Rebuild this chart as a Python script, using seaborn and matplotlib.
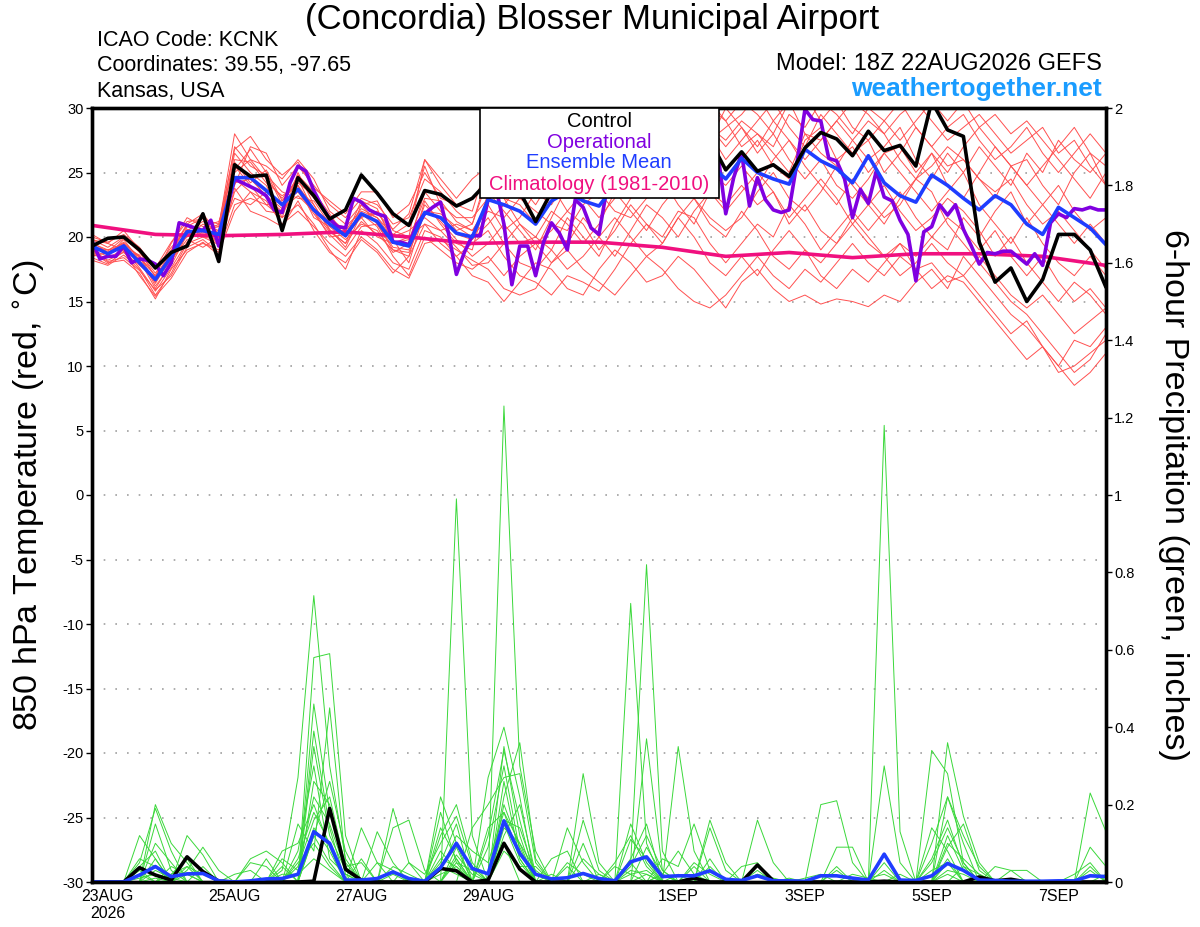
import matplotlib
matplotlib.use("Agg")
import matplotlib.pyplot as plt
from matplotlib.patches import Rectangle
import seaborn as sns
import pandas as pd

# ---- data (6-hourly from 18Z 22AUG2026) ----
RUN_START = "2026-08-22 18:00"

CONTROL_T = [19.3, 19.9, 20.0, 19.0, 17.6, 18.8, 19.3, 21.8, 18.1, 25.6, 24.7, 24.8, 20.5,
             24.6, 23.2, 21.4, 22.1, 24.8, 23.4, 21.8, 20.9, 23.6, 23.3, 22.4, 23.0, 24.3,
             25.0, 23.5, 21.2, 23.5, 25.5, 26.0, 25.0, 26.5, 27.0, 26.0, 27.5, 28.0, 27.0,
             27.5, 25.2, 26.6, 25.1, 25.6, 24.7, 26.9, 28.1, 27.6, 26.3, 28.2, 26.7, 27.1,
             25.5, 30.5, 28.3, 27.8, 19.6, 16.5, 17.6, 15.0, 16.7, 20.2, 20.2, 19.0, 16.1]

MEAN_T = [19.3, 18.7, 19.3, 18.0, 16.7, 18.5, 20.4, 20.5, 20.2, 24.6, 24.6, 23.6, 22.5,
          23.7, 22.1, 21.0, 20.1, 21.8, 21.2, 19.6, 19.3, 21.9, 21.5, 20.3, 20.0, 22.9,
          22.5, 22.0, 21.0, 22.8, 23.5, 22.8, 22.4, 24.0, 24.5, 25.0, 25.3, 25.5, 25.8,
          25.6, 24.5, 26.1, 25.0, 24.5, 24.1, 26.8, 25.9, 25.3, 24.2, 26.3, 24.2, 23.2,
          22.7, 24.8, 24.0, 23.0, 22.1, 23.2, 22.5, 21.0, 20.2, 22.3, 21.5, 20.7, 19.4]

# operational run is 3-hourly
OPER_T = [19.7, 18.3, 18.5, 18.5, 19.3, 18.0, 18.3, 18.2, 17.9, 17.0, 18.0, 21.1, 20.9,
          20.7, 20.5, 21.3, 19.3, 22.1, 24.5, 24.2, 23.9, 23.6, 23.2, 22.1, 21.9, 24.2,
          25.5, 25.1, 23.6, 22.4, 21.4, 20.8, 20.7, 23.0, 22.7, 22.1, 21.8, 21.6, 19.6,
          19.6, 19.4, 21.0, 21.8, 22.3, 22.7, 20.3, 17.1, 18.8, 20.1, 20.1, 22.9, 23.8,
          21.0, 16.3, 19.3, 19.3, 17.0, 19.6, 21.1, 20.3, 19.0, 22.9, 22.3, 20.7, 20.2,
          23.8, 25.0, 24.5, 25.5, 26.0, 25.0, 24.5, 25.5, 26.5, 26.0, 25.5, 26.5, 27.0,
          26.0, 26.5, 21.8, 24.6, 26.5, 22.4, 24.6, 22.9, 22.1, 21.9, 22.1, 25.8, 29.9,
          29.1, 29.0, 26.1, 25.9, 24.5, 21.5, 23.7, 22.6, 25.1, 23.1, 22.8, 21.3, 20.2,
          16.6, 20.4, 20.8, 22.5, 21.7, 22.5, 20.6, 19.3, 17.9, 18.8, 18.7, 18.9, 18.9,
          18.4, 17.9, 18.7, 17.8, 21.1, 21.8, 21.5, 22.2, 22.1, 22.3, 22.1, 22.1]

# climatology, daily at 18Z
CLIM_T = [20.9, 20.2, 20.1, 20.2, 20.4, 20.0, 19.5, 19.6, 19.6, 19.2, 18.5, 18.8, 18.4,
          18.7, 18.7, 18.5, 17.8]

RED_MEMBERS = [
    [19.0, 18.5, 19.8, 18.2, 16.0, 18.0, 20.8, 21.5, 20.0, 26.5, 25.0, 24.0, 21.5, 25.0, 22.5, 20.5, 19.5,
     22.5, 21.0, 19.0, 18.5, 22.8, 21.0, 19.5, 19.0, 23.5, 22.0, 20.5, 19.0, 21.5, 24.0, 25.5, 23.0, 26.5,
     27.0, 28.5, 27.0, 29.0, 30.5, 28.0, 26.0, 27.5, 29.0, 30.5, 28.5, 27.0, 29.5, 28.0, 26.5, 27.5, 25.0,
     26.5, 28.5, 27.0, 25.5, 26.0, 24.5, 23.0, 25.5, 26.0, 24.0, 22.5, 25.0, 26.5, 24.0],
    [18.2, 17.8, 18.6, 17.5, 15.5, 17.2, 19.5, 20.0, 19.4, 23.5, 24.8, 23.0, 22.0, 24.0, 21.5, 20.8, 19.8,
     21.0, 20.5, 18.8, 19.5, 23.5, 22.0, 20.5, 21.0, 24.5, 23.0, 22.5, 21.0, 23.5, 25.0, 26.5, 24.5, 25.5,
     27.5, 26.0, 28.0, 27.0, 29.5, 28.5, 27.0, 28.5, 27.0, 29.0, 30.5, 28.0, 27.5, 29.0, 27.5, 26.0, 27.0,
     28.5, 26.0, 24.5, 26.5, 25.0, 27.0, 25.5, 24.0, 26.5, 25.0, 27.5, 26.0, 25.0, 26.5],
    [19.8, 19.2, 20.0, 18.8, 17.2, 19.0, 21.0, 20.5, 20.8, 25.0, 26.0, 24.5, 23.0, 24.5, 23.0, 21.5, 20.5,
     21.5, 22.0, 20.0, 20.5, 21.5, 20.5, 21.0, 20.5, 22.0, 21.5, 23.0, 22.0, 21.0, 20.5, 22.5, 23.5, 22.0,
     21.5, 23.0, 24.5, 22.5, 21.0, 23.5, 22.5, 24.0, 22.5, 23.5, 21.0, 22.5, 20.5, 19.5, 21.5, 20.0, 18.5,
     19.5, 17.5, 18.0, 16.5, 17.0, 15.5, 14.0, 12.5, 13.5, 11.5, 10.0, 12.0, 11.5, 13.0],
    [19.5, 19.0, 19.5, 18.0, 16.5, 18.8, 20.0, 21.0, 20.5, 27.0, 25.5, 24.8, 23.5, 23.0, 22.8, 21.0, 20.8,
     22.0, 21.5, 19.8, 18.0, 22.0, 21.8, 20.8, 20.0, 21.5, 19.5, 18.0, 17.5, 19.0, 21.5, 20.0, 18.5, 21.0,
     23.0, 24.5, 23.0, 25.5, 26.5, 25.0, 24.0, 25.5, 24.0, 26.0, 27.5, 25.5, 24.0, 22.5, 24.5, 23.0, 21.5,
     22.5, 24.5, 23.5, 21.0, 19.5, 18.0, 16.5, 15.0, 14.0, 12.5, 11.0, 9.5, 10.5, 12.5],
    [18.8, 18.0, 18.2, 17.2, 15.2, 17.5, 19.0, 19.5, 19.0, 22.5, 23.0, 22.5, 21.5, 22.5, 21.0, 19.0, 17.5,
     20.5, 19.5, 18.0, 17.5, 20.5, 20.0, 18.5, 17.0, 16.5, 15.0, 16.5, 18.0, 17.5, 16.0, 15.5, 17.5, 19.0,
     18.0, 16.5, 17.0, 18.5, 17.5, 16.0, 14.5, 16.5, 17.5, 16.0, 15.0, 15.5, 14.8, 15.2, 15.0, 14.6, 15.5,
     15.0, 16.5, 17.5, 16.0, 18.5, 17.0, 15.5, 14.0, 13.0, 11.5, 10.0, 8.5, 9.5, 11.0],
    [20.2, 19.5, 19.0, 18.5, 17.0, 19.5, 21.5, 20.8, 21.2, 24.0, 27.0, 26.5, 24.0, 25.5, 24.0, 22.5, 21.5,
     23.0, 22.5, 21.0, 21.5, 24.5, 23.5, 22.0, 21.0, 25.0, 26.5, 24.0, 22.5, 24.5, 27.0, 26.0, 28.0, 29.5,
     28.0, 30.5, 29.0, 27.5, 28.5, 30.0, 29.0, 27.0, 28.0, 26.5, 25.0, 28.0, 26.5, 25.5, 27.5, 29.0, 28.0,
     26.0, 24.5, 25.5, 27.0, 26.0, 24.5, 23.5, 24.5, 22.5, 21.0, 22.0, 20.5, 19.0, 17.5],
    [18.5, 18.8, 19.5, 18.5, 16.2, 17.8, 20.2, 20.0, 19.8, 25.5, 24.0, 22.5, 22.8, 24.5, 22.0, 20.0, 20.2,
     21.5, 20.0, 19.5, 20.0, 21.0, 19.5, 18.5, 19.5, 20.5, 18.5, 17.0, 16.5, 15.5, 17.0, 16.5, 15.8, 17.5,
     19.5, 21.0, 20.0, 22.0, 21.5, 19.5, 18.0, 19.5, 21.0, 20.0, 22.5, 21.0, 19.0, 20.5, 22.0, 20.5, 22.0,
     23.5, 21.5, 20.0, 21.5, 20.5, 19.0, 20.5, 18.5, 17.0, 18.5, 16.5, 15.0, 16.0, 14.5],
    [19.8, 19.5, 20.5, 19.0, 17.5, 19.2, 20.5, 21.2, 20.8, 28.0, 26.0, 25.5, 24.5, 26.0, 24.5, 22.0, 21.0,
     22.5, 22.8, 20.5, 20.0, 26.0, 24.0, 22.5, 22.0, 26.0, 27.5, 29.0, 27.0, 28.5, 30.5, 29.5, 31.0, 29.0,
     28.0, 30.0, 31.0, 29.5, 28.5, 30.5, 29.0, 30.5, 29.5, 28.0, 30.5, 31.0, 29.0, 30.5, 28.5, 27.5, 29.0,
     30.5, 28.5, 27.0, 28.5, 29.5, 27.5, 26.0, 27.0, 28.5, 26.5, 25.0, 26.5, 28.0, 26.5],
    [19.0, 18.2, 18.8, 17.8, 16.8, 18.2, 19.8, 19.2, 20.0, 23.0, 22.5, 23.5, 22.5, 23.5, 21.8, 20.2, 19.0,
     20.8, 21.0, 19.2, 19.0, 22.5, 21.2, 19.8, 18.5, 19.5, 21.0, 19.5, 20.0, 22.0, 21.0, 19.5, 21.0, 23.5,
     22.0, 20.5, 22.5, 24.0, 23.0, 21.0, 20.0, 22.0, 20.5, 18.5, 17.5, 19.0, 17.0, 16.0, 17.5, 16.5, 18.0,
     19.5, 18.5, 20.0, 19.0, 21.5, 20.0, 22.0, 23.5, 21.0, 22.5, 24.0, 22.0, 20.5, 21.5],
    [19.2, 19.0, 19.2, 18.6, 16.4, 18.4, 20.6, 20.2, 20.5, 26.0, 25.8, 24.2, 23.2, 24.0, 22.2, 21.2, 20.5,
     22.2, 21.5, 20.2, 21.0, 25.5, 22.5, 21.5, 21.5, 23.0, 24.5, 25.5, 23.5, 25.0, 23.5, 24.5, 26.5, 25.0,
     23.5, 25.5, 26.5, 25.0, 27.0, 26.0, 24.5, 26.0, 27.5, 25.5, 24.5, 27.5, 28.5, 26.0, 27.0, 25.0, 26.5,
     27.0, 25.0, 26.5, 24.0, 23.0, 25.0, 27.0, 25.5, 24.0, 25.5, 27.0, 28.5, 26.5, 25.5],
    [18.6, 18.4, 19.0, 17.6, 15.8, 17.6, 19.6, 20.6, 19.6, 24.5, 23.5, 22.0, 21.8, 23.8, 22.5, 20.6, 19.2,
     21.8, 20.8, 18.5, 17.0, 20.0, 19.0, 18.0, 17.5, 18.5, 17.0, 18.5, 19.5, 18.0, 19.5, 21.5, 20.0, 18.5,
     20.5, 22.5, 21.5, 20.0, 22.0, 23.5, 22.0, 23.5, 25.0, 23.5, 21.5, 23.0, 24.5, 23.0, 21.0, 22.5, 24.0,
     22.0, 20.5, 21.5, 23.0, 22.0, 20.5, 18.5, 20.0, 18.0, 16.5, 15.0, 16.5, 15.5, 14.0],
    [19.6, 18.8, 19.6, 18.4, 17.0, 18.6, 21.0, 21.8, 20.2, 25.2, 26.8, 25.0, 22.5, 24.8, 23.5, 21.8, 20.0,
     22.8, 22.2, 19.5, 19.8, 23.0, 22.8, 21.2, 20.5, 22.5, 20.5, 21.5, 23.5, 22.5, 24.5, 23.0, 21.5, 23.0,
     25.5, 24.0, 25.5, 28.0, 26.5, 27.5, 30.0, 28.5, 26.5, 28.0, 26.0, 24.5, 26.0, 24.0, 23.0, 24.5, 26.5,
     25.0, 23.5, 22.0, 23.5, 25.0, 22.5, 21.0, 19.5, 21.5, 19.5, 18.0, 17.0, 18.5, 17.0],
    [19.4, 18.6, 19.4, 18.2, 16.6, 18.2, 20.2, 20.5, 19.4, 24.2, 24.5, 23.2, 22.2, 23.2, 22.0, 20.4, 19.5,
     21.2, 20.2, 19.0, 18.8, 21.8, 21.5, 20.2, 19.8, 21.0, 22.5, 24.0, 25.5, 24.0, 22.0, 23.5, 25.0, 27.0,
     25.5, 27.5, 25.5, 24.0, 25.5, 27.5, 28.5, 29.5, 31.0, 29.0, 27.5, 26.0, 27.5, 29.0, 30.5, 29.5, 28.0,
     29.5, 30.5, 29.0, 27.5, 28.5, 29.5, 28.0, 26.5, 27.5, 28.5, 26.5, 27.5, 25.5, 24.0],
    [18.9, 18.1, 18.4, 17.4, 15.9, 17.0, 19.2, 19.8, 18.8, 22.0, 23.5, 22.8, 21.0, 22.0, 20.8, 19.5, 18.5,
     20.0, 19.0, 17.5, 16.8, 19.5, 19.8, 19.0, 18.2, 17.5, 16.0, 15.5, 16.0, 18.0, 19.0, 17.5, 16.5, 15.5,
     17.0, 18.5, 17.5, 16.0, 15.0, 14.5, 15.5, 17.0, 18.5, 17.0, 16.0, 17.5, 16.5, 18.0, 19.5, 18.0, 17.0,
     18.5, 17.5, 16.0, 17.0, 16.5, 15.0, 13.5, 12.0, 10.5, 11.5, 9.5, 10.0, 11.0, 12.0],
    [19.1, 18.9, 19.9, 18.9, 16.9, 18.9, 20.9, 20.3, 21.0, 25.8, 24.2, 25.2, 22.8, 24.2, 23.2, 21.6, 20.0,
     21.6, 21.8, 20.6, 21.8, 26.0, 24.5, 23.0, 24.5, 25.5, 23.0, 21.0, 19.5, 20.5, 22.0, 21.0, 19.0, 20.5,
     22.5, 21.0, 19.5, 21.5, 23.0, 21.5, 20.5, 21.5, 23.5, 25.0, 23.0, 22.0, 23.5, 25.5, 24.0, 22.5, 21.0,
     23.0, 24.5, 26.5, 25.0, 27.0, 28.5, 27.0, 25.5, 24.0, 22.5, 21.0, 19.5, 21.0, 19.5],
    [18.4, 17.9, 18.9, 17.0, 15.4, 16.8, 18.8, 19.6, 18.6, 23.8, 22.0, 21.5, 20.8, 22.8, 20.5, 18.8, 18.0,
     19.8, 18.8, 17.2, 18.5, 21.0, 20.5, 19.2, 17.8, 18.0, 19.5, 21.0, 20.0, 19.0, 17.5, 18.5, 20.0, 21.5,
     20.0, 18.5, 19.5, 21.5, 20.0, 18.0, 17.0, 18.5, 17.0, 19.0, 20.5, 19.0, 18.0, 19.5, 21.0, 19.5, 18.5,
     17.0, 18.0, 19.5, 18.0, 17.0, 18.5, 17.0, 15.5, 14.5, 15.5, 14.0, 12.5, 13.5, 14.5],
    [20.0, 19.6, 20.2, 19.2, 17.6, 19.6, 21.2, 21.4, 21.0, 26.8, 27.8, 26.0, 24.8, 25.8, 23.8, 22.8, 21.8,
     23.5, 23.5, 21.5, 22.5, 25.0, 23.0, 22.5, 23.0, 24.0, 25.5, 27.0, 28.5, 27.0, 26.0, 28.0, 29.5, 28.0,
     26.5, 28.0, 29.5, 31.0, 29.5, 28.5, 27.5, 29.0, 28.0, 27.0, 29.5, 28.5, 30.5, 29.5, 28.0, 30.0, 29.0,
     27.5, 29.0, 30.5, 29.0, 30.5, 28.5, 29.5, 28.0, 29.0, 27.5, 26.0, 24.5, 23.0, 25.0],
]

CONTROL_P = [0, 0, 0, 0.037, 0.018, 0.005, 0.065, 0.027, 0.002, 0, 0, 0, 0, 0, 0.002, 0.19, 0.033,
             0.005, 0, 0, 0, 0, 0.035, 0.029, 0, 0.005, 0.10, 0.033, 0, 0, 0, 0, 0, 0, 0, 0, 0, 0,
             0.01, 0, 0, 0, 0.044, 0.003, 0, 0, 0, 0, 0, 0, 0.002, 0, 0, 0, 0, 0, 0.013, 0.003,
             0.007, 0, 0, 0, 0, 0, 0]

MEAN_P = [0, 0, 0, 0.018, 0.04, 0.014, 0.021, 0.022, 0.003, 0, 0.003, 0.008, 0.009, 0.02, 0.13,
          0.10, 0.005, 0.005, 0.009, 0.026, 0.009, 0.002, 0.037, 0.10, 0.035, 0.021, 0.158, 0.074,
          0.02, 0.008, 0.011, 0.022, 0.009, 0.003, 0.052, 0.065, 0.014, 0.016, 0.016, 0.029, 0.007,
          0.004, 0.016, 0.003, 0.003, 0.002, 0.016, 0.016, 0.01, 0.005, 0.072, 0.005, 0.004, 0.016,
          0.048, 0.03, 0.005, 0.004, 0.002, 0.002, 0.002, 0.003, 0.003, 0.016, 0.014]

# ensemble precip members: {6-hour step: inches}, other steps are dry
GREEN_MEMBERS = [
    {3: 0.05, 4: 0.19, 5: 0.08, 12: 0.03, 13: 0.27, 14: 0.74, 15: 0.30, 16: 0.06, 22: 0.05, 23: 0.15,
     26: 0.35, 27: 0.12, 34: 0.05, 35: 0.82, 36: 0.08, 50: 0.30, 51: 0.05, 54: 0.22, 55: 0.10},
    {4: 0.20, 5: 0.10, 6: 0.05, 14: 0.58, 15: 0.59, 16: 0.12, 19: 0.19, 20: 0.05, 23: 0.99, 24: 0.12,
     26: 0.10, 31: 0.28, 32: 0.05, 37: 0.35, 38: 0.08, 46: 0.20, 47: 0.21, 48: 0.05, 53: 0.34,
     54: 0.28, 55: 0.05},
    {3: 0.12, 4: 0.06, 6: 0.12, 7: 0.07, 11: 0.06, 14: 0.39, 15: 0.14, 17: 0.14, 18: 0.05, 22: 0.22,
     23: 0.10, 26: 1.23, 27: 0.30, 28: 0.08, 34: 0.72, 35: 0.10, 42: 0.16, 43: 0.05, 50: 1.18,
     51: 0.13, 63: 0.23, 64: 0.13},
    {3: 0.03, 5: 0.02, 6: 0.06, 12: 0.08, 13: 0.10, 14: 0.20, 15: 0.09, 18: 0.13, 19: 0.05, 22: 0.18,
     23: 0.05, 25: 0.27, 26: 0.40, 27: 0.22, 30: 0.14, 31: 0.05, 35: 0.37, 36: 0.03, 39: 0.16,
     40: 0.05, 54: 0.36, 55: 0.17, 56: 0.05},
    {4: 0.10, 5: 0.05, 10: 0.05, 11: 0.04, 14: 0.14, 15: 0.08, 19: 0.14, 20: 0.16, 21: 0.03, 24: 0.14,
     25: 0.20, 26: 0.27, 27: 0.28, 28: 0.05, 31: 0.16, 32: 0.03, 34: 0.15, 35: 0.05, 39: 0.14,
     40: 0.03, 47: 0.09, 48: 0.09, 53: 0.10, 54: 0.22, 55: 0.12, 56: 0.04, 63: 0.09, 64: 0.04},
    {3: 0.02, 6: 0.03, 7: 0.09, 8: 0.03, 10: 0.06, 11: 0.08, 12: 0.05, 14: 0.46, 15: 0.18, 16: 0.04,
     17: 0.05, 22: 0.08, 23: 0.03, 25: 0.12, 26: 0.34, 27: 0.16, 29: 0.06, 30: 0.08, 34: 0.11,
     35: 0.06, 41: 0.04, 42: 0.05, 53: 0.14, 54: 0.08, 57: 0.04, 58: 0.03},
    {4: 0.03, 5: 0.01, 13: 0.15, 14: 0.08, 15: 0.45, 16: 0.05, 20: 0.05, 21: 0.02, 22: 0.10, 23: 0.17,
     24: 0.04, 26: 0.20, 27: 0.09, 30: 0.05, 31: 0.02, 36: 0.06, 37: 0.04, 38: 0.15, 39: 0.03,
     45: 0.01, 46: 0.02, 50: 0.05, 53: 0.05, 54: 0.14, 55: 0.05, 62: 0.02, 63: 0.05},
    {3: 0.01, 4: 0.02, 12: 0.06, 13: 0.03, 14: 0.22, 15: 0.15, 16: 0.03, 22: 0.03, 23: 0.12, 24: 0.08,
     25: 0.05, 26: 0.18, 27: 0.10, 28: 0.03, 33: 0.04, 34: 0.02, 35: 0.03, 38: 0.05, 39: 0.02,
     44: 0.01, 49: 0.01, 50: 0.02, 54: 0.05, 55: 0.03, 58: 0.03, 59: 0.03},
    {5: 0.04, 6: 0.02, 9: 0.02, 10: 0.03, 14: 0.12, 15: 0.05, 18: 0.05, 19: 0.03, 23: 0.05, 24: 0.03,
     26: 0.12, 27: 0.20, 28: 0.02, 31: 0.06, 32: 0.02, 35: 0.09, 36: 0.02, 42: 0.03, 55: 0.04,
     56: 0.02},
    {3: 0.06, 4: 0.04, 7: 0.04, 13: 0.05, 14: 0.10, 15: 0.04, 17: 0.06, 22: 0.02, 23: 0.04, 26: 0.15,
     27: 0.05, 29: 0.02, 34: 0.03, 35: 0.02, 39: 0.06, 47: 0.03, 51: 0.02, 54: 0.02, 63: 0.03},
    {4: 0.01, 6: 0.02, 12: 0.02, 13: 0.02, 14: 0.06, 15: 0.03, 19: 0.02, 22: 0.04, 23: 0.02, 26: 0.08,
     27: 0.04, 28: 0.04, 35: 0.02, 37: 0.02, 42: 0.02, 50: 0.03, 54: 0.03, 55: 0.02},
    {13: 0.08, 14: 0.30, 15: 0.06, 16: 0.02, 23: 0.07, 24: 0.02, 26: 0.26, 27: 0.06, 32: 0.02,
     34: 0.05, 36: 0.02, 54: 0.10, 55: 0.06, 56: 0.02, 64: 0.02},
    {4: 0.15, 5: 0.03, 14: 0.26, 15: 0.20, 16: 0.02, 23: 0.06, 25: 0.09, 26: 0.30, 27: 0.08, 33: 0.05,
     34: 0.12, 35: 0.04, 42: 0.02, 43: 0.01, 48: 0.02, 49: 0.01, 54: 0.12, 55: 0.03},
    {6: 0.04, 7: 0.02, 14: 0.35, 15: 0.12, 16: 0.03, 19: 0.04, 20: 0.02, 22: 0.06, 23: 0.04, 26: 0.16,
     27: 0.14, 28: 0.02, 36: 0.02, 37: 0.08, 38: 0.02, 53: 0.06, 54: 0.16, 55: 0.04},
    {3: 0.04, 4: 0.08, 13: 0.04, 14: 0.16, 15: 0.22, 16: 0.04, 22: 0.14, 23: 0.06, 26: 0.22, 27: 0.36,
     28: 0.06, 31: 0.10, 34: 0.06, 35: 0.15, 39: 0.04, 54: 0.09, 55: 0.15, 56: 0.03},
    {5: 0.02, 6: 0.04, 12: 0.04, 14: 0.12, 15: 0.26, 16: 0.08, 22: 0.12, 23: 0.20, 24: 0.05, 26: 0.14,
     27: 0.10, 30: 0.04, 34: 0.04, 35: 0.12, 36: 0.03, 47: 0.04, 54: 0.06, 63: 0.04},
    {4: 0.06, 13: 0.06, 14: 0.18, 15: 0.10, 23: 0.09, 25: 0.14, 26: 0.18, 27: 0.06, 34: 0.02, 38: 0.04,
     53: 0.03, 54: 0.05},
]

TICK_DATES = ["2026-08-23", "2026-08-25", "2026-08-27", "2026-08-29",
              "2026-09-01", "2026-09-03", "2026-09-05", "2026-09-07"]
TICK_LABELS = ["23AUG\n2026", "25AUG", "27AUG", "29AUG", "1SEP", "3SEP", "5SEP", "7SEP"]

LEGEND_NAMES = ["Control", "Operational", "Ensemble Mean", "Climatology (1981-2010)"]

C_CONTROL = "black"
C_OPER = "#8000e0"
C_MEAN = "#1f3dff"
C_CLIM = "#f0107f"
C_RED = "#ff5050"
C_GREEN = "#3ad83a"

# ---- build frames ----
t6 = pd.date_range(RUN_START, periods=len(CONTROL_T), freq="6h")
t3 = pd.date_range(RUN_START, periods=len(OPER_T), freq="3h")
t24 = pd.date_range(RUN_START, periods=len(CLIM_T), freq="24h")

red_rows = []
for m, vals in enumerate(RED_MEMBERS):
    for t, v in zip(t6, vals):
        red_rows.append({"time": t, "temp": v, "member": m})
red_df = pd.DataFrame(red_rows)

green_rows = []
for m, steps in enumerate(GREEN_MEMBERS):
    for i, t in enumerate(t6):
        green_rows.append({"time": t, "precip": steps.get(i, 0.0), "member": m})
green_df = pd.DataFrame(green_rows)

sns.set_theme(style="white")
plt.rcParams["font.family"] = ["Liberation Sans", "DejaVu Sans"]
plt.rcParams["text.color"] = "black"
plt.rcParams["axes.labelcolor"] = "black"
plt.rcParams["xtick.color"] = "black"
plt.rcParams["ytick.color"] = "black"

fig = plt.figure(figsize=(12, 9.27), dpi=100)
ax = fig.add_axes([92 / 1200, 1 - 882 / 927, 1014 / 1200, 774 / 927])
ax2 = ax.twinx()

# temperature
sns.lineplot(data=red_df, x="time", y="temp", units="member", estimator=None,
             color=C_RED, lw=0.7, ax=ax, legend=False)
sns.lineplot(x=t24, y=CLIM_T, color=C_CLIM, lw=2.6, ax=ax)
sns.lineplot(x=t3, y=OPER_T, color=C_OPER, lw=2.6, ax=ax)
sns.lineplot(x=t6, y=MEAN_T, color=C_MEAN, lw=2.6, ax=ax)
sns.lineplot(x=t6, y=CONTROL_T, color=C_CONTROL, lw=2.6, ax=ax)

# precipitation
sns.lineplot(data=green_df, x="time", y="precip", units="member", estimator=None,
             color=C_GREEN, lw=0.7, ax=ax2, legend=False)
sns.lineplot(x=t6, y=CONTROL_P, color=C_CONTROL, lw=2.6, ax=ax2)
sns.lineplot(x=t6, y=MEAN_P, color=C_MEAN, lw=2.6, ax=ax2)

ax.set_xlim(t6[0], t6[-1])
ax.set_ylim(-30, 30)
ax2.set_ylim(0, 2)

ax.set_yticks(range(-30, 31, 5))
ax.set_yticklabels([str(v) for v in range(-30, 31, 5)])
p_ticks = [0, 0.2, 0.4, 0.6, 0.8, 1, 1.2, 1.4, 1.6, 1.8, 2]
ax2.set_yticks(p_ticks)
ax2.set_yticklabels(["0", "0.2", "0.4", "0.6", "0.8", "1", "1.2", "1.4", "1.6", "1.8", "2"])
ax.set_xticks(pd.to_datetime(TICK_DATES))
ax.set_xticklabels(TICK_LABELS)

ax.set_xlabel("")
ax.set_ylabel("")
ax2.set_ylabel("")

for a in (ax, ax2):
    a.tick_params(axis="both", direction="out", length=4, width=1, labelsize=10.5,
                  colors="black", pad=2)
    for s in a.spines.values():
        s.set_linewidth(2.4)
        s.set_color("black")
ax.tick_params(axis="x", labelsize=11.5, pad=1)

ax.yaxis.grid(True, linestyle=(0, (1, 6)), color="#a0a0a0", lw=1.2)
ax.xaxis.grid(False)
ax2.grid(False)

# legend box
ax2.add_patch(Rectangle((0.3826, 0.8837), 0.2357, 0.1163, transform=ax2.transAxes,
                        facecolor="white", edgecolor="black", lw=1.2, zorder=10))
for name, col, yy in zip(LEGEND_NAMES, [C_CONTROL, C_OPER, C_MEAN, C_CLIM],
                         [0.983, 0.956, 0.929, 0.901]):
    ax2.text(0.5, yy, name, transform=ax2.transAxes, ha="center", va="center",
             color=col, fontsize=14.5, zorder=11)

# labels and header
fig.text(30 / 1200, 1 - 495 / 927, "850 hPa Temperature (red, $^{\\circ}$C)", rotation=90,
         ha="center", va="center", fontsize=24.5)
fig.text(1173 / 1200, 1 - 495 / 927, "6-hour Precipitation (green, inches)", rotation=270,
         ha="center", va="center", fontsize=24.5)
fig.text(592 / 1200, 1 - 19 / 927, "(Concordia) Blosser Municipal Airport",
         ha="center", va="center", fontsize=25)
fig.text(97 / 1200, 1 - 40 / 927, "ICAO Code: KCNK", ha="left", va="center", fontsize=15.5)
fig.text(97 / 1200, 1 - 66 / 927, "Coordinates: 39.55, -97.65", ha="left", va="center",
         fontsize=15.5)
fig.text(97 / 1200, 1 - 92 / 927, "Kansas, USA", ha="left", va="center", fontsize=15.5)
fig.text(1102 / 1200, 1 - 64 / 927, "Model: 18Z 22AUG2026 GEFS", ha="right", va="center",
         fontsize=17)
fig.text(1102 / 1200, 1 - 89 / 927, "weathertogether.net", ha="right", va="center",
         fontsize=19, fontweight="bold", color="#1a9cff")

fig.savefig("out.png", dpi=100)
